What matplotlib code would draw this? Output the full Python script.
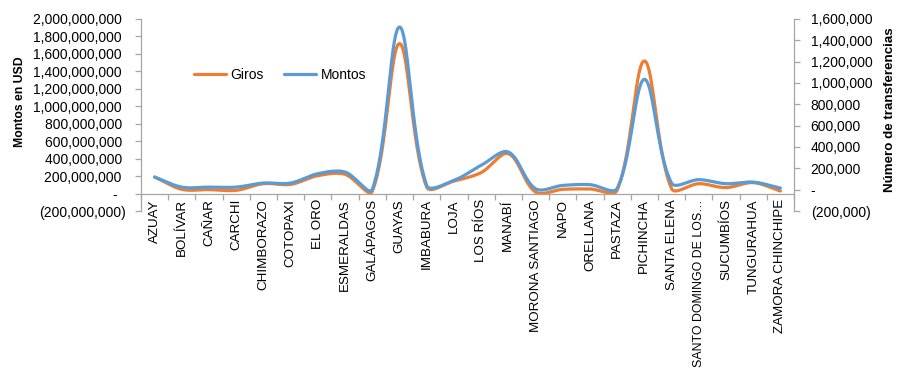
import numpy as np
import matplotlib
matplotlib.use('Agg')
import matplotlib.pyplot as plt
from matplotlib.ticker import FuncFormatter

plt.rcParams['font.family'] = ['Liberation Sans', 'DejaVu Sans']

# %% Data
provincias = ['AZUAY', 'BOLÍVAR', 'CAÑAR', 'CARCHI', 'CHIMBORAZO', 'COTOPAXI',
              'EL ORO', 'ESMERALDAS', 'GALÁPAGOS', 'GUAYAS', 'IMBABURA', 'LOJA',
              'LOS RÍOS', 'MANABÍ', 'MORONA SANTIAGO', 'NAPO', 'ORELLANA',
              'PASTAZA', 'PICHINCHA', 'SANTA ELENA', 'SANTO DOMINGO DE LOS…',
              'SUCUMBÍOS', 'TUNGURAHUA', 'ZAMORA CHINCHIPE']

# Giros -> left axis (USD), millions
giros_mill = [189, 48, 45, 37, 113, 105, 205, 220, 25, 1718, 74, 143,
              240, 457, 17, 48, 52, 37, 1519, 56, 113, 68, 125, 29]
# Montos -> right axis, thousands
montos_mil = [118, 24, 24, 24, 62, 62, 150, 165, 3, 1525, 40, 87,
              228, 353, 9, 40, 47, 12, 1034, 62, 94, 56, 71, 15]

giros = np.array(giros_mill) * 1e6
montos = np.array(montos_mil) * 1e3


def smooth(a, y, n=40):
    # Excel-like smoothed line, computed in screen pixels
    x = np.arange(len(y), dtype=float)
    P = a.transData.transform(np.column_stack([x, np.asarray(y, float)]))
    m = len(P)
    cout, cin = [], []
    for i in range(m):
        p0 = P[max(i - 1, 0)]
        p2 = P[min(i + 1, m - 1)]
        T = p2 - p0
        dp = np.hypot(*(P[i] - p0))
        dn = np.hypot(*(p2 - P[i]))
        tot = dp + dn if dp + dn > 0 else 1.0
        cout.append(P[i] + T * dn / tot / 3)
        cin.append(P[i] - T * dp / tot / 3)
    pts_all = []
    t = np.linspace(0, 1, n)[:, None]
    for i in range(m - 1):
        p0, c1, c2, p3 = P[i], cout[i], cin[i + 1], P[i + 1]
        pts = (1 - t) ** 3 * p0 + 3 * (1 - t) ** 2 * t * c1 + 3 * (1 - t) * t ** 2 * c2 + t ** 3 * p3
        pts_all.append(pts)
    pts_all = np.vstack(pts_all)
    back = a.transData.inverted().transform(pts_all)
    return back[:, 0], back[:, 1]


def acct_left(v, pos):
    if abs(v) < 1e-6:
        return '-  '
    s = '{:,.0f}'.format(abs(v))
    return '(' + s + ')' if v < 0 else s + ' '


def acct_right(v, pos):
    if abs(v) < 1e-6:
        return '-'
    s = '{:,.0f}'.format(abs(v))
    return '(' + s + ')' if v < 0 else s


# %% Plot
fig = plt.figure(figsize=(8.99, 3.72), dpi=100)
ax = fig.add_axes([141 / 899, 1 - 211 / 372, 653 / 899, 192 / 372])
ax2 = ax.twinx()

grey = '#A6A6A6'
orange = '#ED7D31'
blue = '#5B9BD5'

ax.set_xlim(-0.5, len(provincias) - 0.5)
ax.set_ylim(-200e6, 2000e6)
ax.set_yticks(np.arange(-200e6, 2000e6 + 1, 200e6))
ax2.set_ylim(-200e3, 1600e3)
ax2.set_yticks(np.arange(-200e3, 1600e3 + 1, 200e3))
ax.yaxis.set_major_formatter(FuncFormatter(acct_left))
ax2.yaxis.set_major_formatter(FuncFormatter(acct_right))

xg, yg = smooth(ax, giros)
xm, ym = smooth(ax2, montos)
ax.plot(xg, yg, color=orange, lw=2.3, solid_capstyle='round', label='Giros')
ax2.plot(xm, ym, color=blue, lw=2.3, solid_capstyle='round', label='Montos')

for a in (ax, ax2):
    a.spines['top'].set_visible(False)
    for s in ('left', 'right', 'bottom'):
        a.spines[s].set_color(grey)
        a.spines[s].set_linewidth(0.9)
ax.tick_params(axis='y', colors=grey, labelcolor='black', labelsize=10, length=4, width=0.9, pad=7)
ax2.tick_params(axis='y', colors=grey, labelcolor='black', labelsize=10, length=4, width=0.9, pad=8)
ax.spines['right'].set_visible(False)
ax2.spines['left'].set_visible(False)
ax2.spines['bottom'].set_visible(False)
ax.spines['bottom'].set_position(('data', 0))

ax.set_xticks(np.arange(len(provincias) + 1) - 0.5)
ax.set_xticklabels([])
ax.set_xticks(np.arange(len(provincias)), minor=True)
ax.set_xticklabels(provincias, minor=True, rotation=90, fontsize=9.6)
ax.tick_params(axis='x', which='major', colors=grey, length=4, width=0.9, direction='out')
ax.tick_params(axis='x', which='minor', length=0, pad=4, labelcolor='black')
# the long truncated label only just fits above the bottom edge
ax.get_xticklabels(minor=True)[20].set_fontsize(8.9)

ax.set_ylabel('Montos en USD', fontsize=8.8, fontweight='bold', va='center', ha='center')
ax.yaxis.set_label_coords(-0.186, 0.57)
ax2.set_ylabel('Número de transferencias', fontsize=9.6, fontweight='bold', rotation=90,
               va='center', ha='center')
ax2.yaxis.set_label_coords(1.147, 0.53)

h1, l1 = ax.get_legend_handles_labels()
h2, l2 = ax2.get_legend_handles_labels()
ax2.legend(h1 + h2, l1 + l2, loc='center', bbox_to_anchor=(0.213, 0.708), ncol=2,
           frameon=False, fontsize=10, handlelength=2.3, columnspacing=1.5, handletextpad=0.3)

fig.savefig('out.png', dpi=100)
